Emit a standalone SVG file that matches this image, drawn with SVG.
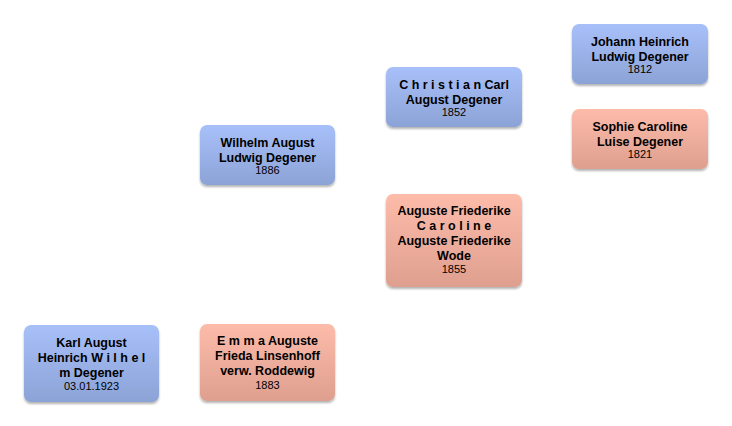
<svg xmlns="http://www.w3.org/2000/svg" width="732" height="426" viewBox="0 0 732 426">
<defs>
<linearGradient id="gb" x1="0" y1="0" x2="0" y2="1"><stop offset="0" stop-color="#a8c0f9"/><stop offset="1" stop-color="#8ca3d7"/></linearGradient>
<linearGradient id="gp" x1="0" y1="0" x2="0" y2="1"><stop offset="0" stop-color="#fdbcaa"/><stop offset="1" stop-color="#df9f8f"/></linearGradient>
<filter id="sh" x="-10%" y="-10%" width="120%" height="130%"><feGaussianBlur in="SourceAlpha" stdDeviation="1.2"/><feOffset dy="1.5"/><feComponentTransfer><feFuncA type="linear" slope="0.3"/></feComponentTransfer><feMerge><feMergeNode/><feMergeNode in="SourceGraphic"/></feMerge></filter>
</defs>
<style>
.b{fill:url(#gb);filter:url(#sh)}
.p{fill:url(#gp);filter:url(#sh)}
.n{font-family:"Liberation Sans",Arial,sans-serif;font-weight:bold;font-size:12.5px;fill:#000;text-anchor:middle}
.d{font-family:"Liberation Sans",Arial,sans-serif;font-size:11px;fill:#000;text-anchor:middle}
</style>
<rect width="732" height="426" fill="#fff"/>
<g id="connectors"></g>
<g id="karl">
<rect class="b" x="24" y="325" width="135" height="77" rx="7"/>
<text class="n" x="91.5" y="347">Karl August</text>
<text class="n" x="91.5" y="362">Heinrich W i l h e l</text>
<text class="n" x="91.5" y="377">m Degener</text>
<text class="d" x="91.5" y="390">03.01.1923</text>
</g>
<g id="wilhelm">
<rect class="b" x="200" y="125" width="135" height="60" rx="7"/>
<text class="n" x="267.5" y="147">Wilhelm August</text>
<text class="n" x="267.5" y="162">Ludwig Degener</text>
<text class="d" x="267.5" y="174">1886</text>
</g>
<g id="emma">
<rect class="p" x="200" y="324" width="135" height="77" rx="7"/>
<text class="n" x="267.5" y="345">E m m a Auguste</text>
<text class="n" x="267.5" y="360">Frieda Linsenhoff</text>
<text class="n" x="267.5" y="375">verw. Roddewig</text>
<text class="d" x="267.5" y="389">1883</text>
</g>
<g id="christian">
<rect class="b" x="386" y="67" width="136" height="60" rx="7"/>
<text class="n" x="454" y="89">C h r i s t i a n Carl</text>
<text class="n" x="454" y="104">August Degener</text>
<text class="d" x="454" y="116">1852</text>
</g>
<g id="auguste">
<rect class="p" x="386" y="194" width="136" height="93" rx="7"/>
<text class="n" x="454" y="215">Auguste Friederike</text>
<text class="n" x="454" y="230">C a r o l i n e</text>
<text class="n" x="454" y="245">Auguste Friederike</text>
<text class="n" x="454" y="260">Wode</text>
<text class="d" x="454" y="273">1855</text>
</g>
<g id="johann">
<rect class="b" x="572" y="24" width="136" height="60" rx="7"/>
<text class="n" x="640" y="46">Johann Heinrich</text>
<text class="n" x="640" y="61">Ludwig Degener</text>
<text class="d" x="640" y="73">1812</text>
</g>
<g id="sophie">
<rect class="p" x="572" y="109" width="136" height="60" rx="7"/>
<text class="n" x="640" y="131">Sophie Caroline</text>
<text class="n" x="640" y="146">Luise Degener</text>
<text class="d" x="640" y="158">1821</text>
</g>
</svg>
